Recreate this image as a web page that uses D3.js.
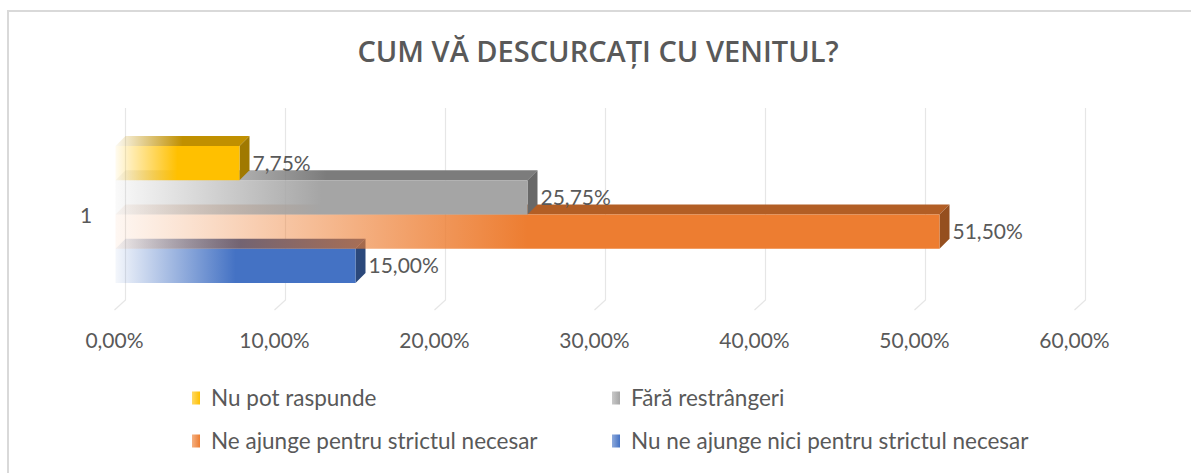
<!DOCTYPE html>
<html>
<head>
<meta charset="utf-8">
<script src="https://cdn.jsdelivr.net/npm/d3@7"></script>
<style>
  html, body { margin: 0; padding: 0; background: #fff; }
  svg { display: block; }
</style>
</head>
<body>
<div id="chart"></div>
<script>
var title = 'CUM VĂ DESCURCAȚI CU VENITUL?';
var categories = ['1'];
var seriesNames = ['Nu pot raspunde', 'Fără restrângeri', 'Ne ajunge pentru strictul necesar', 'Nu ne ajunge nici pentru strictul necesar'];
var seriesValues = [7.75, 25.75, 51.50, 15.00];
var seriesColors = ['#ffc000', '#a5a5a5', '#ed7d31', '#4472c4'];
var tickValues = [0, 10, 20, 30, 40, 50, 60];

(function () {
    var width = 1191, height = 473;
    var textColor = '#595959';
    var depthX = 10, depthY = 10;   // 3D offset front -> back

    var ro = d3.formatLocale({ decimal: ',', thousands: '.', grouping: [3], currency: ['', ''] });
    var pct = ro.format('.2f');

    var svg = d3.select('#chart').append('svg')
        .attr('width', width)
        .attr('height', height);

    var defs = svg.append('defs');

    svg.append('rect')
        .attr('x', 8).attr('y', 11)
        .attr('width', width + 20).attr('height', height + 20)
        .attr('fill', '#fff')
        .attr('stroke', '#d9d9d9')
        .attr('stroke-width', 2);

    // x scale on the back wall
    var x = d3.scaleLinear().domain([0, 60]).range([125.5, 1085.5]);
    // front faces of the bars
    var y = d3.scaleBand().domain(seriesNames).range([146, 283]).padding(0);

    /* Titel */
    svg.append('text')
        .attr('x', 598)
        .attr('y', 62)
        .attr('text-anchor', 'middle')
        .attr('font-family', 'Open Sans')
        .attr('font-weight', 600)
        .attr('font-size', 29)
        .attr('fill', textColor)
        .text(title);

    /* Gitter */
    var grid = svg.append('g');
    tickValues.forEach(function (t) {
        var gx = x(t);
        grid.append('path')
            .attr('d', 'M' + gx + ',108 L' + gx + ',300 L' + (gx - depthX - 1) + ',310')
            .attr('fill', 'none')
            .attr('stroke', '#e6e6e6')
            .attr('stroke-width', 1.2);

        svg.append('text')
            .attr('x', gx - depthX - 1)
            .attr('y', 348)
            .attr('text-anchor', 'middle')
            .attr('font-family', 'Lato')
            .attr('font-size', 21)
            .attr('fill', textColor)
            .text(pct(t) + '%');
    });

    // category label
    svg.append('text')
        .attr('x', 86)
        .attr('y', 223)
        .attr('text-anchor', 'middle')
        .attr('font-family', 'Lato')
        .attr('font-size', 21)
        .attr('fill', textColor)
        .text(categories[0]);

    // gradients
    seriesNames.forEach(function (name, i) {
        var c = seriesColors[i];
        var top = d3.color(c).darker(0.8).formatHex();

        var gf = defs.append('linearGradient').attr('id', 'gf' + i);
        gf.append('stop').attr('offset', '0%').attr('stop-color', c).attr('stop-opacity', 0.06);
        gf.append('stop').attr('offset', '50%').attr('stop-color', c).attr('stop-opacity', 1);
        gf.append('stop').attr('offset', '100%').attr('stop-color', c).attr('stop-opacity', 1);

        var gt = defs.append('linearGradient').attr('id', 'gt' + i);
        gt.append('stop').attr('offset', '0%').attr('stop-color', top).attr('stop-opacity', 0.05);
        gt.append('stop').attr('offset', '50%').attr('stop-color', top).attr('stop-opacity', 1);
        gt.append('stop').attr('offset', '100%').attr('stop-color', top).attr('stop-opacity', 1);

        var gl = defs.append('linearGradient').attr('id', 'gl' + i);
        gl.append('stop').attr('offset', '0%').attr('stop-color', c).attr('stop-opacity', 0.6);
        gl.append('stop').attr('offset', '100%').attr('stop-color', c).attr('stop-opacity', 1);
    });

    /* Balken - von unten nach oben zeichnen */
    var bars = svg.append('g');
    d3.range(seriesNames.length).reverse().forEach(function (i) {
        var name = seriesNames[i];
        var v = seriesValues[i];
        var c = seriesColors[i];
        var x0 = x(0) - depthX;
        var x1 = x(v) - depthX;
        var yt = y(name);
        var yb = yt + y.bandwidth();
        var g = bars.append('g');

        // top face
        g.append('path')
            .attr('d', 'M' + x0 + ',' + yt +
                ' L' + (x0 + depthX) + ',' + (yt - depthY) +
                ' L' + (x1 + depthX) + ',' + (yt - depthY) +
                ' L' + x1 + ',' + yt + ' Z')
            .attr('fill', 'url(#gt' + i + ')');

        // side face
        g.append('path')
            .attr('d', 'M' + x1 + ',' + yt +
                ' L' + (x1 + depthX) + ',' + (yt - depthY) +
                ' L' + (x1 + depthX) + ',' + (yb - depthY) +
                ' L' + x1 + ',' + yb + ' Z')
            .attr('fill', d3.color(c).darker(1.3).formatHex());

        // front face
        g.append('rect')
            .attr('x', x0)
            .attr('y', yt)
            .attr('width', x1 - x0)
            .attr('height', y.bandwidth())
            .attr('fill', 'url(#gf' + i + ')');

        g.append('title').text(name + ': ' + pct(v) + '%');
    });

    // data labels
    seriesNames.forEach(function (name, i) {
        var v = seriesValues[i];
        svg.append('text')
            .attr('x', x(v) + 3)
            .attr('y', y(name) + y.bandwidth() / 2 + 7.5)
            .attr('font-family', 'Lato')
            .attr('font-size', 21)
            .attr('fill', textColor)
            .text(pct(v) + '%');
    });

    /* Legende */
    var legendPos = [[192, 398], [612, 398], [192, 441], [612, 441]];
    seriesNames.forEach(function (name, i) {
        var p = legendPos[i];
        svg.append('rect')
            .attr('x', p[0])
            .attr('y', p[1] - 6.5)
            .attr('width', 8)
            .attr('height', 13)
            .attr('fill', 'url(#gl' + i + ')');

        svg.append('text')
            .attr('x', p[0] + 19)
            .attr('y', p[1] + 7.5)
            .attr('font-family', 'Lato')
            .attr('font-size', 22.5)
            .attr('fill', textColor)
            .text(name);
    });
})();
</script>
</body>
</html>
